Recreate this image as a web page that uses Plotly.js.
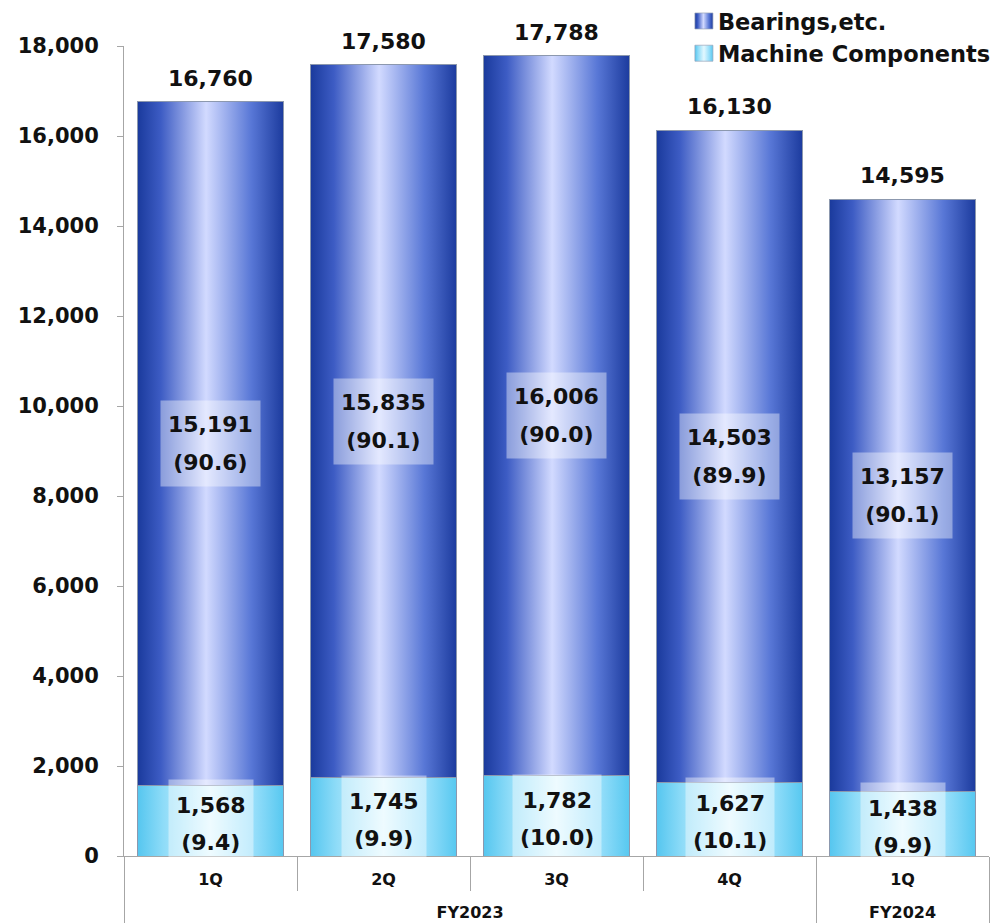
<!DOCTYPE html>
<html>
<head>
<meta charset="utf-8">
<script src="https://cdn.plot.ly/plotly-3.0.1.min.js"></script>
<style>html,body{margin:0;padding:0;background:#fff;}</style>
</head>
<body>
<div id="chart" style="width:994px;height:923px;"></div>
<script>
const quarters = ['1Q', '2Q', '3Q', '4Q', '1Q'];
const fiscalYears = ['FY2023', 'FY2023', 'FY2023', 'FY2023', 'FY2024'];
const machine = [1568, 1745, 1782, 1627, 1438];
const bearings = [15191, 15835, 16006, 14503, 13157];
const totals = [16760, 17580, 17788, 16130, 14595];
const machinePct = ['9.4', '9.9', '10.0', '10.1', '9.9'];
const bearingsPct = ['90.6', '90.1', '90.0', '89.9', '90.1'];
const seriesNames = ['Machine Components', 'Bearings,etc.'];
const yTicks = [0, 2000, 4000, 6000, 8000, 10000, 12000, 14000, 16000, 18000];

const FONT = 'DejaVu Sans, Verdana, sans-serif';
const fmt = v => v.toLocaleString('en-US');
// second line of each quarter label is an empty spacer line to push the FY row down
const xcats = [fiscalYears, quarters.map(q => q + '<br>\u00a0')];

const traces = [
  {
    type: 'bar', name: seriesNames[0], x: xcats, y: machine,
    marker: {color: '#7fd8f7', line: {color: '#8c98ae', width: 1}},
    hoverinfo: 'skip'
  },
  {
    type: 'bar', name: seriesNames[1], x: xcats, y: bearings,
    marker: {color: '#4a66c8', line: {color: '#8c98ae', width: 1}},
    hoverinfo: 'skip'
  }
];

const annotations = [];
const lbl = (v, p) => '<span style="font-size:22px">' + fmt(v) + '</span><br><span style="font-size:22px">(' + p + ')</span>';
for (let i = 0; i < quarters.length; i++) {
  annotations.push({
    x: i, y: machine[i] / 2, xref: 'x', yref: 'y',
    text: lbl(machine[i], machinePct[i]), showarrow: false,
    font: {family: FONT, size: 29, color: '#111', weight: 700},
    bgcolor: 'rgba(255,255,255,0.42)', borderpad: 7, yshift: -3, height: 74
  });
  annotations.push({
    x: i, y: machine[i] + bearings[i] / 2, xref: 'x', yref: 'y',
    text: lbl(bearings[i], bearingsPct[i]), showarrow: false,
    font: {family: FONT, size: 29, color: '#111', weight: 700},
    bgcolor: 'rgba(255,255,255,0.4)', borderpad: 7, height: 71
  });
  annotations.push({
    x: i, y: totals[i], xref: 'x', yref: 'y', yanchor: 'bottom',
    text: fmt(totals[i]), showarrow: false, yshift: 9,
    font: {family: FONT, size: 22, color: '#111', weight: 700}
  });
}

const layout = {
  width: 994, height: 923,
  margin: {l: 124, r: 5, t: 46, b: 67, pad: 0, autoexpand: false},
  paper_bgcolor: '#fff', plot_bgcolor: '#fff',
  barmode: 'stack', bargap: 0.156,
  font: {family: FONT, color: '#111'},
  showlegend: true,
  legend: {
    x: 1.008, xanchor: 'right', y: 1.057, yanchor: 'top',
    bgcolor: 'rgba(0,0,0,0)', traceorder: 'reversed',
    font: {family: FONT, size: 22.5, color: '#111', weight: 700},
    itemwidth: 30, tracegroupgap: 0
  },
  xaxis: {
    type: 'multicategory',
    showline: true, linecolor: '#a6a6a6', linewidth: 1,
    ticks: 'outside', tickson: 'boundaries', ticklen: 34, tickcolor: '#a6a6a6',
    showdividers: true, dividercolor: '#a6a6a6', dividerwidth: 1,
    tickfont: {family: FONT, size: 16, color: '#111', weight: 700},
    ticklabelstandoff: 9,
    showgrid: false, zeroline: false
  },
  yaxis: {
    range: [0, 18000], tickvals: yTicks, ticktext: yTicks.map(fmt),
    showline: true, linecolor: '#a6a6a6', linewidth: 1,
    ticks: 'outside', ticklen: 6, tickcolor: '#a6a6a6',
    tickfont: {family: FONT, size: 21, color: '#111', weight: 700},
    ticklabelstandoff: 14,
    showgrid: false, zeroline: false
  },
  annotations: annotations
};

function applyGradients(gd) {
  const svg = gd.querySelector('.main-svg');
  let defs = svg.querySelector('defs');
  const NS = 'http://www.w3.org/2000/svg';
  function addGrad(id, stops) {
    const g = document.createElementNS(NS, 'linearGradient');
    g.setAttribute('id', id);
    g.setAttribute('x1', '0'); g.setAttribute('x2', '1');
    g.setAttribute('y1', '0'); g.setAttribute('y2', '0');
    stops.forEach(s => {
      const st = document.createElementNS(NS, 'stop');
      st.setAttribute('offset', s[0]);
      st.setAttribute('stop-color', s[1]);
      g.appendChild(st);
    });
    defs.appendChild(g);
  }
  addGrad('gradMachine', [[0, '#55c6ef'], [0.18, '#8fdcf8'], [0.5, '#e2f8ff'], [0.8, '#95defa'], [1, '#57c8f0']]);
  addGrad('gradBearings', [[0, '#1a3a9c'], [0.16, '#3d5cc4'], [0.47, '#d2daff'], [0.78, '#5877d6'], [1, '#1c3b9e']]);
  const ids = ['gradMachine', 'gradBearings'];
  gd.querySelectorAll('.barlayer .trace').forEach((t, i) => {
    t.querySelectorAll('.point path').forEach(p => { p.style.fill = 'url(#' + ids[i] + ')'; });
  });
  gd.querySelectorAll('.legend .traces').forEach(t => {
    const txt = t.querySelector('.legendtext').textContent;
    const id = txt.indexOf('Machine') >= 0 ? 'gradMachine' : 'gradBearings';
    t.querySelectorAll('.legendpoints path').forEach(p => {
      p.style.fill = 'url(#' + id + ')';
      p.setAttribute('d', 'M15,8H-3V-8H15Z');
      p.style.stroke = '#9aa4b8';
      p.style.strokeWidth = '0.7px';
    });
  });
}

Plotly.newPlot('chart', traces, layout, {displayModeBar: false, staticPlot: true})
  .then(gd => applyGradients(gd));
</script>
</body>
</html>
